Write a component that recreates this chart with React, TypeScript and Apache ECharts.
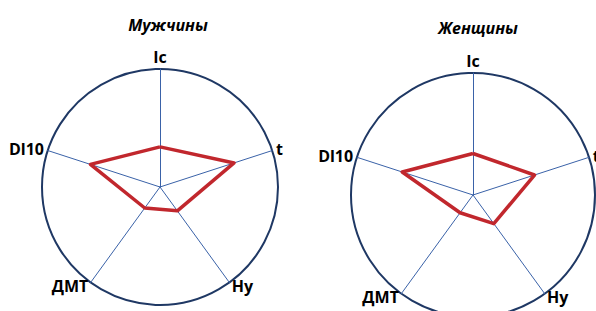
import React, { useEffect, useRef } from "react";
import * as echarts from "echarts";

const indicatorNames = ["Ic", "Dl10", "ДМТ", "Hy", "t"];
const menValues = [34, 62, 22, 25, 66];
const womenValues = [34, 61, 18, 29, 53];
const titles = ["Мужчины", "Женщины"];
const axisMax = 100;

export default function App() {
  const ref = useRef<HTMLDivElement>(null);
  useEffect(() => {
    document.body.style.margin = "0";
    const chart = echarts.init(ref.current!, null, { renderer: "svg" });
    const font = "'Open Sans', 'Noto Sans', sans-serif";
    const radarBase = {
      shape: "circle",
      splitNumber: 1,
      startAngle: 90,
      indicator: indicatorNames.map((n) => ({ name: n, max: axisMax })),
      axisName: { color: "#000", fontWeight: "bold", fontSize: 16, fontFamily: font },
      nameGap: 4,
      axisLine: { lineStyle: { color: "#3A62A8", width: 1 } },
      splitLine: { lineStyle: { color: "#1F3864", width: 2 } },
      splitArea: { show: false },
      axisTick: { show: false },
      axisLabel: { show: false },
    };
    chart.setOption({
      animation: false,
      backgroundColor: "#fff",
      title: [
        {
          text: titles[0],
          left: 163,
          top: 12,
          textAlign: "center",
          textStyle: { fontSize: 16, fontWeight: "bold", fontStyle: "italic", fontFamily: font, color: "#000" },
        },
        {
          text: titles[1],
          left: 473,
          top: 15,
          textAlign: "center",
          textStyle: { fontSize: 16, fontWeight: "bold", fontStyle: "italic", fontFamily: font, color: "#000" },
        },
      ],
      radar: [
        { ...radarBase, center: [160, 187], radius: 118 },
        { ...radarBase, center: [473, 195], radius: 122 },
      ],
      series: [
        {
          type: "radar",
          radarIndex: 0,
          symbol: "none",
          lineStyle: { color: "#C1272D", width: 3.5 },
          data: [{ value: menValues, name: titles[0] }],
        },
        {
          type: "radar",
          radarIndex: 1,
          symbol: "none",
          lineStyle: { color: "#C1272D", width: 3.5 },
          data: [{ value: womenValues, name: titles[1] }],
        },
      ],
    });
    return () => chart.dispose();
  }, []);
  return (
    <div
      ref={ref}
      style={{ position: "absolute", left: 0, top: 0, width: 596, height: 311 }}
    />
  );
}
